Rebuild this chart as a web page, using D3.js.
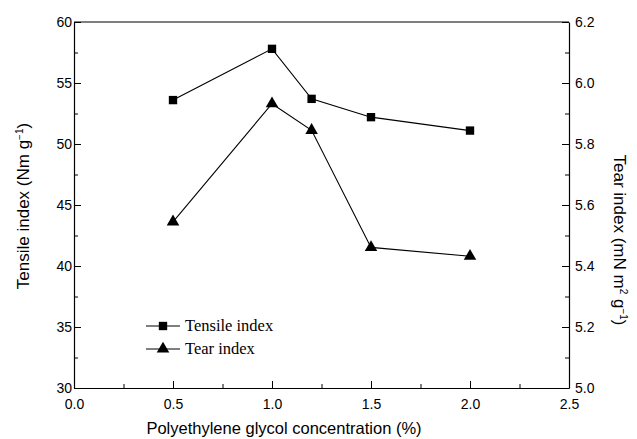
<!DOCTYPE html>
<html>
<head>
<meta charset="utf-8">
<script src="https://cdn.jsdelivr.net/npm/d3@7"></script>
<style>
  html, body { margin: 0; padding: 0; background: #fff; }
  svg { display: block; }
</style>
</head>
<body>
<svg id="chart" width="637" height="439"></svg>
<script>
const concentrations = [0.5, 1.0, 1.2, 1.5, 2.0];
const tensileIndex = [53.6, 57.8, 53.7, 52.2, 51.1];
const tearIndex = [5.545, 5.932, 5.845, 5.461, 5.432];
const xTicks = [0.0, 0.5, 1.0, 1.5, 2.0, 2.5];
const leftTicks = [30, 35, 40, 45, 50, 55, 60];
const rightTicks = [5.0, 5.2, 5.4, 5.6, 5.8, 6.0, 6.2];
const seriesNames = ["Tensile index", "Tear index"];

const svg = d3.select("#chart");
const L = 74, R = 569, T = 22, B = 388;

const x = d3.scaleLinear().domain([0, 2.5]).range([L, R]);
const yL = d3.scaleLinear().domain([30, 60]).range([B, T]);
const yR = d3.scaleLinear().domain([5.0, 6.2]).range([B, T]);

const sans = "Liberation Sans, Arial, Helvetica, sans-serif";
const serif = "Liberation Serif, Times New Roman, serif";

// frame top line
svg.append("line").attr("x1", L).attr("x2", R).attr("y1", T).attr("y2", T)
  .attr("stroke", "#000").attr("stroke-width", 1.2);

function styleAxis(g) {
  g.selectAll("path.domain").attr("stroke", "#000").attr("stroke-width", 1.2);
  g.selectAll(".tick line").attr("stroke", "#000").attr("stroke-width", 1);
  g.selectAll(".tick text").attr("font-family", sans).attr("font-size", 14).attr("fill", "#000");
}

// bottom axis: minor ticks then major
const gxMinor = svg.append("g").attr("transform", `translate(0,${B})`)
  .call(d3.axisBottom(x).tickValues(d3.range(0.25, 2.5, 0.5)).tickSize(-4).tickFormat(""));
gxMinor.select("path.domain").remove();
gxMinor.selectAll(".tick line").attr("stroke", "#000");
const gx = svg.append("g").attr("transform", `translate(0,${B})`)
  .call(d3.axisBottom(x).tickValues(xTicks).tickSizeInner(-7).tickSizeOuter(0).tickPadding(11).tickFormat(d3.format(".1f")));
styleAxis(gx);

// left axis
const gyLMinor = svg.append("g").attr("transform", `translate(${L},0)`)
  .call(d3.axisLeft(yL).tickValues(d3.range(32.5, 60, 5)).tickSize(-4).tickFormat(""));
gyLMinor.select("path.domain").remove();
gyLMinor.selectAll(".tick line").attr("stroke", "#000");
const gyL = svg.append("g").attr("transform", `translate(${L},0)`)
  .call(d3.axisLeft(yL).tickValues(leftTicks).tickSizeInner(-7).tickSizeOuter(0).tickPadding(6));
styleAxis(gyL);
gyL.selectAll(".tick text").attr("x", -2);

// right axis
const gyRMinor = svg.append("g").attr("transform", `translate(${R},0)`)
  .call(d3.axisRight(yR).tickValues(d3.range(5.1, 6.2, 0.2)).tickSize(-4).tickFormat(""));
gyRMinor.select("path.domain").remove();
gyRMinor.selectAll(".tick line").attr("stroke", "#000");
const gyR = svg.append("g").attr("transform", `translate(${R},0)`)
  .call(d3.axisRight(yR).tickValues(rightTicks).tickSizeInner(-7).tickSizeOuter(0).tickFormat(d3.format(".1f")));
styleAxis(gyR);
gyR.selectAll(".tick text").attr("x", 6);

// axis titles
svg.append("text").attr("x", 284).attr("y", 434).attr("text-anchor", "middle")
  .attr("font-family", sans).attr("font-size", 16.5).text("Polyethylene glycol concentration (%)");

const lt = svg.append("text").attr("transform", `translate(29,206) rotate(-90)`)
  .attr("text-anchor", "middle").attr("font-family", sans).attr("font-size", 17);
lt.append("tspan").text("Tensile index (Nm g");
lt.append("tspan").attr("dy", -6).attr("font-size", 10).text("−1");
lt.append("tspan").attr("dy", 6).text(")");

const rt = svg.append("text").attr("transform", `translate(614,240) rotate(90)`)
  .attr("text-anchor", "middle").attr("font-family", sans).attr("font-size", 17);
rt.append("tspan").text("Tear index (mN m");
rt.append("tspan").attr("dy", -6).attr("font-size", 10).text("2");
rt.append("tspan").attr("dy", 6).text(" g");
rt.append("tspan").attr("dy", -6).attr("font-size", 10).text("−1");
rt.append("tspan").attr("dy", 6).text(")");

// series
const line = (yScale, vals) => d3.line().x((d, i) => x(concentrations[i])).y((d) => yScale(d))(vals);
svg.append("path").attr("d", line(yL, tensileIndex)).attr("fill", "none").attr("stroke", "#000").attr("stroke-width", 1.1);
svg.append("path").attr("d", line(yR, tearIndex)).attr("fill", "none").attr("stroke", "#000").attr("stroke-width", 1.1);

const sq = d3.symbol().type(d3.symbolSquare).size(70);
const tri = d3.symbol().type(d3.symbolTriangle).size(68);

svg.selectAll(".sq").data(tensileIndex).enter().append("path")
  .attr("d", sq).attr("transform", (d, i) => `translate(${x(concentrations[i])},${yL(d)})`).attr("fill", "#000");
svg.selectAll(".tri").data(tearIndex).enter().append("path")
  .attr("d", tri).attr("transform", (d, i) => `translate(${x(concentrations[i])},${yR(d)})`).attr("fill", "#000");

// legend
const legY = [326, 349];
const lg = svg.append("g");
[sq, tri].forEach((sym, k) => {
  lg.append("line").attr("x1", 146).attr("x2", 180).attr("y1", legY[k]).attr("y2", legY[k])
    .attr("stroke", "#000").attr("stroke-width", 1.1);
  lg.append("path").attr("d", sym).attr("transform", `translate(163,${legY[k]})`).attr("fill", "#000");
  lg.append("text").attr("x", 185).attr("y", legY[k] + 5).attr("font-family", serif)
    .attr("font-size", 16.5).text(seriesNames[k]);
});
</script>
</body>
</html>
